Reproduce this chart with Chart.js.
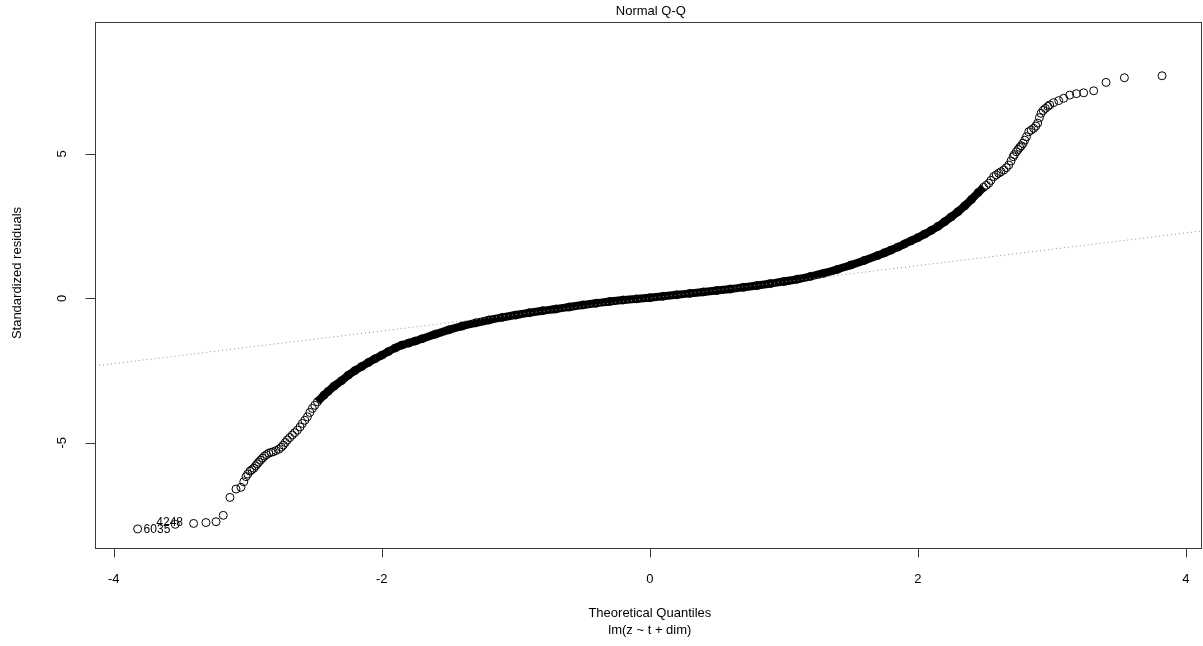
<!DOCTYPE html>
<html><head><meta charset="utf-8">
<script src="https://cdn.jsdelivr.net/npm/chart.js@4.4.1/dist/chart.umd.min.js"></script>
<style>html,body{margin:0;padding:0;background:#fff;}#wrap{width:1203px;height:646px;position:relative;}</style>
</head><body><div id="wrap"><canvas id="c" width="1203" height="646"></canvas></div>
<script>
// Theoretical quantiles (x) and standardized residuals (y)
const qqX = [
-3.822,-3.541,-3.404,-3.312,-3.237,-3.183,-3.133,-3.088,-3.051,-3.030,
-3.013,-3.000,-2.984,-2.970,-2.955,-2.942,-2.930,-2.918,-2.905,-2.890,
-2.875,-2.860,-2.843,-2.826,-2.810,-2.790,-2.768,-2.750,-2.735,-2.720,
-2.705,-2.687,-2.668,-2.650,-2.630,-2.610,-2.593,-2.574,-2.555,-2.537,
-2.518,-2.500,-2.480,-2.431,-2.400,-2.356,-2.300,
-2.250,-2.200,-2.150,-2.100,-2.050,-2.000,-1.950,-1.900,-1.850,-1.800,
-1.750,-1.700,-1.600,-1.500,-1.400,-1.300,-1.200,-1.100,-1.000,-0.900,
-0.800,-0.700,-0.600,-0.500,-0.400,-0.300,-0.200,-0.100,0.000,0.100,
0.200,0.300,0.400,0.500,0.600,0.700,0.800,0.900,1.000,1.100,
1.200,1.300,1.400,1.500,1.600,1.700,1.750,1.800,1.850,1.900,
1.950,2.000,2.050,2.100,2.150,2.200,2.250,2.300,2.350,2.400,
2.450,2.490,2.510,2.529,2.545,2.566,2.585,2.603,2.620,2.641,
2.660,2.678,2.695,2.711,2.720,2.735,2.748,2.760,2.772,2.785,
2.797,2.810,2.827,2.845,2.864,2.880,2.894,2.907,2.919,2.935,
2.951,2.970,2.984,3.013,3.051,3.088,3.133,3.183,3.237,3.312,
3.404,3.541,3.822
];
const qqY = [
-7.98,-7.82,-7.79,-7.76,-7.73,-7.51,-6.89,-6.60,-6.54,-6.35,
-6.17,-6.08,-5.98,-5.93,-5.88,-5.80,-5.73,-5.67,-5.60,-5.53,
-5.46,-5.41,-5.36,-5.33,-5.31,-5.27,-5.22,-5.15,-5.08,-4.99,
-4.90,-4.82,-4.73,-4.65,-4.56,-4.45,-4.33,-4.22,-4.10,-3.95,
-3.81,-3.70,-3.58,-3.35,-3.22,-3.04,-2.85,
-2.66,-2.50,-2.36,-2.22,-2.09,-1.97,-1.84,-1.72,-1.62,-1.55,
-1.48,-1.40,-1.24,-1.09,-0.96,-0.85,-0.75,-0.66,-0.58,-0.50,
-0.43,-0.37,-0.30,-0.23,-0.17,-0.11,-0.06,-0.02,0.02,0.07,
0.12,0.17,0.22,0.27,0.32,0.38,0.44,0.51,0.58,0.66,
0.76,0.87,1.00,1.15,1.31,1.48,1.57,1.67,1.77,1.88,
1.99,2.10,2.22,2.35,2.49,2.65,2.82,3.00,3.20,3.42,
3.66,3.84,3.91,3.98,4.08,4.21,4.27,4.33,4.38,4.44,
4.52,4.61,4.75,4.90,4.97,5.07,5.15,5.22,5.28,5.36,
5.47,5.59,5.76,5.82,5.88,5.96,6.06,6.25,6.40,6.50,
6.57,6.64,6.69,6.77,6.84,6.92,7.03,7.08,7.11,7.18,
7.47,7.63,7.70
];
// Reference line (qqline) end points
const qqLineX = [-4.14, 4.12];
const qqLineY = [-2.34, 2.33];
// x-range where the points overlap into a solid band
const denseRange = [-2.49, 2.49];
// Labelled observations: index into the series and id text
const idIndex = [0, 1];
const idText = ['6035', '4248'];
// Axis ticks and limits
const xTicks = [-4, -2, 0, 2, 4];
const yTicks = [-5, 0, 5];
const xLimits = [-4.14, 4.12];
const yLimits = [-8.64, 9.56];
const titleText = 'Normal Q-Q';
const xTitle = 'Theoretical Quantiles';
const subTitle = 'lm(z ~ t + dim)';
const yTitle = 'Standardized residuals';

const pts = qqX.map((x, i) => ({x: x, y: qqY[i]}));
const band = pts.filter(p => p.x >= denseRange[0] && p.x <= denseRange[1]);
const lineData = qqLineX.map((x, i) => ({x: x, y: qqLineY[i]}));

const FONT = '"Liberation Sans", Arial, Helvetica, sans-serif';

const decor = {
  id: 'decor',
  afterDraw(chart) {
    const ctx = chart.ctx;
    const a = chart.chartArea;
    const xs = chart.scales.x, ys = chart.scales.y;
    ctx.save();
    // id labels for extreme points
    ctx.fillStyle = '#000';
    ctx.font = '12px ' + FONT;
    ctx.textBaseline = 'middle';
    ctx.textAlign = 'left';
    const offs = [[6, 1], [-19, -2]];
    idIndex.forEach((k, j) => {
      const px = xs.getPixelForValue(qqX[k]);
      const py = ys.getPixelForValue(qqY[k]);
      ctx.fillText(idText[j], px + offs[j][0], py + offs[j][1]);
    });
    // box
    ctx.strokeStyle = '#3a3a3a';
    ctx.lineWidth = 1;
    const L = Math.round(a.left) + 0.5, R = Math.round(a.right) - 0.5;
    const T = Math.round(a.top) + 0.5, B = Math.round(a.bottom) + 0.5;
    ctx.strokeRect(L, T, R - L, B - T);
    // x axis ticks
    ctx.beginPath();
    xTicks.forEach(t => {
      const px = Math.round(xs.getPixelForValue(t)) + 0.5;
      ctx.moveTo(px, B); ctx.lineTo(px, B + 9);
    });
    // y axis ticks
    yTicks.forEach(t => {
      const py = Math.round(ys.getPixelForValue(t)) + 0.5;
      ctx.moveTo(L, py); ctx.lineTo(L - 10, py);
    });
    ctx.stroke();
    // tick labels
    ctx.fillStyle = '#000';
    ctx.font = '13px ' + FONT;
    ctx.textAlign = 'center';
    ctx.textBaseline = 'middle';
    xTicks.forEach(t => {
      ctx.fillText(String(t), xs.getPixelForValue(t), 579);
    });
    yTicks.forEach(t => {
      ctx.save();
      ctx.translate(62, ys.getPixelForValue(t));
      ctx.rotate(-Math.PI / 2);
      ctx.fillText(String(t), 0, 0);
      ctx.restore();
    });
    // titles
    const cx = xs.getPixelForValue(0);
    ctx.fillText(titleText, cx + 1, 11);
    ctx.fillText(xTitle, cx, 613);
    ctx.fillText(subTitle, cx, 630);
    ctx.save();
    ctx.translate(17, 273);
    ctx.rotate(-Math.PI / 2);
    ctx.fillText(yTitle, 0, 0);
    ctx.restore();
    ctx.restore();
  }
};

new Chart(document.getElementById('c'), {
  type: 'scatter',
  data: {
    datasets: [
      {
        type: 'line', data: lineData, order: 0,
        borderColor: '#8c8c8c', borderWidth: 1, borderDash: [1, 3],
        pointRadius: 0, fill: false
      },
      {
        type: 'scatter', data: pts, order: 1,
        pointStyle: 'circle', pointRadius: 4, pointBorderWidth: 1,
        borderColor: '#000', pointBorderColor: '#000',
        backgroundColor: 'rgba(0,0,0,0)', pointBackgroundColor: 'rgba(0,0,0,0)'
      },
      {
        type: 'line', data: band, order: 2,
        borderColor: '#000', borderWidth: 8, pointRadius: 0, fill: false,
        cubicInterpolationMode: 'monotone', borderCapStyle: 'butt', borderJoinStyle: 'round'
      }
    ]
  },
  options: {
    responsive: false, animation: false, devicePixelRatio: 1,
    layout: { autoPadding: false, padding: { left: 95, right: 1, top: 22, bottom: 98 } },
    plugins: { legend: { display: false }, tooltip: { enabled: false } },
    events: [],
    scales: {
      x: { type: 'linear', min: xLimits[0], max: xLimits[1], display: false },
      y: { type: 'linear', min: yLimits[0], max: yLimits[1], display: false }
    }
  },
  plugins: [decor]
});
</script>
</body></html>
